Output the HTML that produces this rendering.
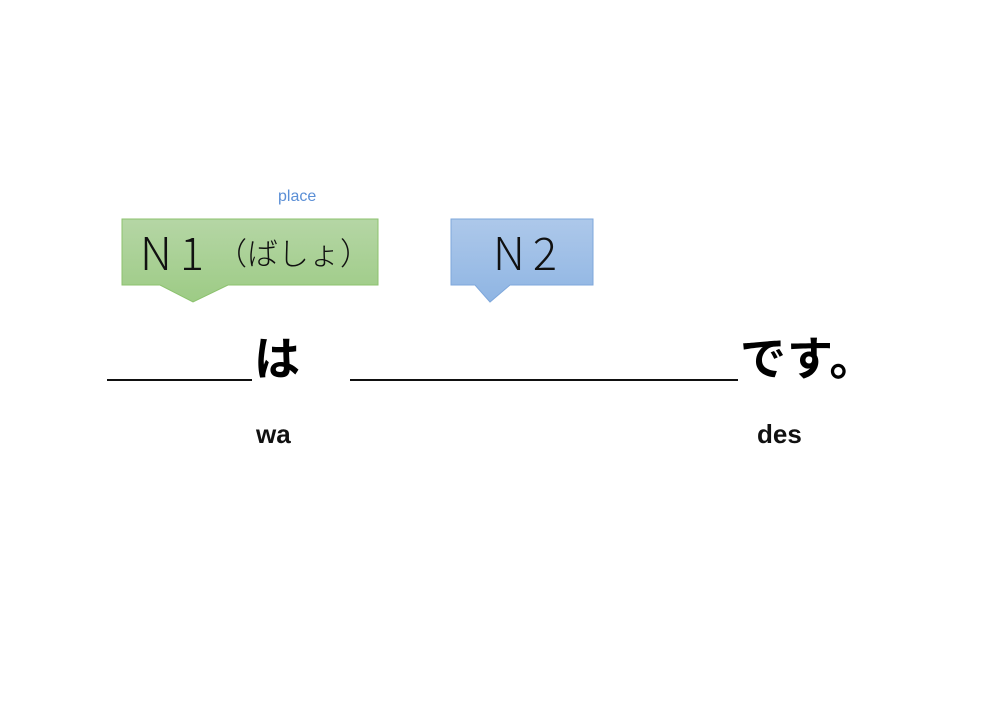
<!DOCTYPE html>
<html><head><meta charset="utf-8"><style>
body{margin:0;width:1000px;height:707px;background:#fff;position:relative;overflow:hidden;font-family:"Liberation Sans","Noto Sans CJK JP",sans-serif}
.t{position:absolute;white-space:nowrap;line-height:1}
</style></head><body>
<svg width="1000" height="707" style="position:absolute;left:0;top:0">
<defs>
<linearGradient id="g" x1="0" y1="0" x2="0" y2="1"><stop offset="0" stop-color="#b5d6a5"/><stop offset="1" stop-color="#9dcb85"/></linearGradient>
<linearGradient id="b" x1="0" y1="0" x2="0" y2="1"><stop offset="0" stop-color="#adc8ea"/><stop offset="1" stop-color="#8fb5e3"/></linearGradient>
</defs>
<path d="M122,219H378V285H228L193,302L160,285H122Z" fill="url(#g)" stroke="#8cc26e" stroke-width="1"/>
<path d="M451,219H593V285H510L490,302L475,285H451Z" fill="url(#b)" stroke="#7ea7db" stroke-width="1"/>
<line x1="107" y1="380" x2="252" y2="380" stroke="#111" stroke-width="2"/>
<line x1="350" y1="380" x2="738" y2="380" stroke="#111" stroke-width="2"/>
</svg>
<div class="t" style="left:278px;top:189px;font-size:16px;color:#5b8fd6">place</div>
<div class="t" style="left:140px;top:228px;font-size:45px;color:#111;font-family:'Noto Sans CJK JP',sans-serif;font-weight:300;letter-spacing:8px">N1</div>
<div class="t" style="left:216px;top:236px;font-size:31px;color:#111;font-family:'Noto Sans CJK JP',sans-serif;font-weight:300">（ばしょ）</div>
<div class="t" style="left:493px;top:228px;font-size:45px;color:#111;font-family:'Noto Sans CJK JP',sans-serif;font-weight:300;letter-spacing:8px">N2</div>
<div class="t" style="left:254px;top:333px;font-size:46px;font-weight:bold;color:#000;font-family:'Noto Sans CJK JP',sans-serif">は</div>
<div class="t" style="left:740px;top:333px;font-size:46px;font-weight:bold;color:#000;font-family:'Noto Sans CJK JP',sans-serif;letter-spacing:1px">です。</div>
<div class="t" style="left:256px;top:421px;font-size:26px;font-weight:bold;color:#111">wa</div>
<div class="t" style="left:757px;top:421px;font-size:26px;font-weight:bold;color:#111">des</div>
</body></html>
